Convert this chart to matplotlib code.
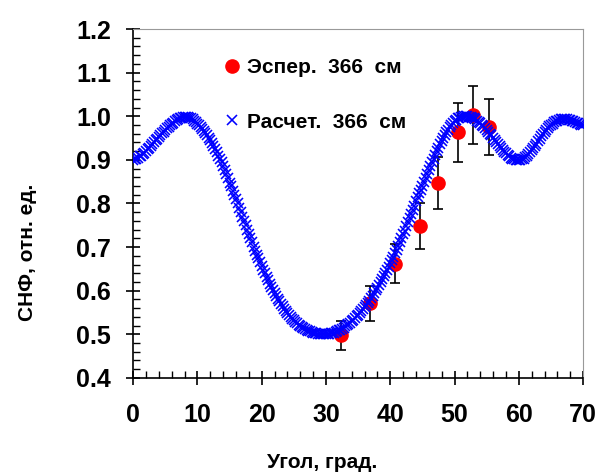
import numpy as np
import matplotlib
matplotlib.use('Agg')
import matplotlib.pyplot as plt
from matplotlib.ticker import MultipleLocator, FormatStrFormatter

plt.rcParams['font.family'] = ['Liberation Sans', 'DejaVu Sans']
plt.rcParams['font.weight'] = 'bold'

# calculated curve, step 0.25 deg
calc_angle = np.arange(0, 70.01, 0.25)
calc_value = [
    0.900, 0.901, 0.903, 0.905, 0.908, 0.910, 0.913, 0.916, 0.920, 0.924,
    0.928, 0.932, 0.937, 0.941, 0.945, 0.949, 0.953, 0.957, 0.961, 0.965,
    0.968, 0.972, 0.975, 0.979, 0.982, 0.985, 0.988, 0.991, 0.993, 0.995,
    0.997, 0.998, 0.999, 0.999, 0.998, 0.997, 0.995, 0.993, 0.990, 0.987,
    0.983, 0.979, 0.975, 0.971, 0.966, 0.961, 0.956, 0.951, 0.945, 0.939,
    0.932, 0.925, 0.918, 0.910, 0.902, 0.894, 0.885, 0.876, 0.867, 0.858,
    0.848, 0.839, 0.829, 0.820, 0.810, 0.800, 0.790, 0.780, 0.770, 0.760,
    0.750, 0.740, 0.730, 0.720, 0.711, 0.701, 0.692, 0.683, 0.674, 0.665,
    0.656, 0.648, 0.640, 0.632, 0.624, 0.616, 0.609, 0.602, 0.595, 0.588,
    0.582, 0.576, 0.570, 0.564, 0.559, 0.554, 0.549, 0.544, 0.540, 0.536,
    0.532, 0.528, 0.525, 0.522, 0.519, 0.516, 0.514, 0.512, 0.510, 0.508,
    0.507, 0.505, 0.504, 0.503, 0.502, 0.501, 0.501, 0.500, 0.500, 0.500,
    0.500, 0.500, 0.501, 0.502, 0.503, 0.504, 0.506, 0.507, 0.509, 0.511,
    0.513, 0.515, 0.518, 0.521, 0.524, 0.527, 0.530, 0.533, 0.537, 0.541,
    0.545, 0.549, 0.553, 0.557, 0.562, 0.567, 0.572, 0.577, 0.583, 0.589,
    0.595, 0.601, 0.607, 0.613, 0.620, 0.627, 0.634, 0.641, 0.648, 0.655,
    0.663, 0.670, 0.678, 0.686, 0.694, 0.702, 0.711, 0.720, 0.729, 0.738,
    0.748, 0.757, 0.767, 0.776, 0.786, 0.795, 0.805, 0.814, 0.823, 0.832,
    0.841, 0.850, 0.859, 0.868, 0.877, 0.886, 0.895, 0.903, 0.912, 0.920,
    0.928, 0.936, 0.943, 0.950, 0.957, 0.963, 0.969, 0.975, 0.980, 0.984,
    0.988, 0.992, 0.995, 0.997, 0.998, 0.999, 1.000, 1.000, 1.000, 0.999,
    0.998, 0.997, 0.995, 0.993, 0.990, 0.987, 0.984, 0.981, 0.977, 0.973,
    0.969, 0.965, 0.960, 0.956, 0.951, 0.946, 0.941, 0.937, 0.932, 0.927,
    0.923, 0.919, 0.915, 0.911, 0.908, 0.905, 0.903, 0.901, 0.900, 0.899,
    0.899, 0.900, 0.901, 0.903, 0.906, 0.909, 0.913, 0.917, 0.922, 0.927,
    0.932, 0.937, 0.943, 0.948, 0.954, 0.959, 0.964, 0.969, 0.973, 0.977,
    0.980, 0.983, 0.986, 0.988, 0.990, 0.992, 0.993, 0.994, 0.994, 0.994,
    0.993, 0.992, 0.991, 0.990, 0.988, 0.987, 0.985, 0.984, 0.982, 0.981,
    0.980,
]

# experiment
exp_angle = [32.4, 36.9, 40.8, 44.7, 47.5, 50.6, 52.9, 55.4]
exp_value = [0.498, 0.571, 0.662, 0.748, 0.847, 0.963, 1.003, 0.975]
exp_err = [0.033, 0.040, 0.045, 0.052, 0.060, 0.067, 0.067, 0.064]

fig = plt.figure(figsize=(6.08, 4.76), dpi=100)
ax = fig.add_axes([0.219, 0.206, 0.740, 0.733])

ax.errorbar(exp_angle, exp_value, yerr=exp_err, fmt='none', ecolor='black',
            elinewidth=1.2, capsize=3.5, capthick=1.2, zorder=2)
h_exp, = ax.plot(exp_angle, exp_value, 'o', color='#FF0000', markersize=9.5,
                 label='Эспер.  366  см', zorder=3)
h_calc, = ax.plot(calc_angle, calc_value, 'x', color='#0000FF', markersize=6.5,
                  markeredgewidth=1.15, label='Расчет.  366  см', zorder=4)

ax.set_xlim(0, 70)
ax.set_ylim(0.4, 1.2)
ax.xaxis.set_major_locator(MultipleLocator(10))
ax.xaxis.set_minor_locator(MultipleLocator(2))
ax.yaxis.set_major_locator(MultipleLocator(0.1))
ax.yaxis.set_minor_locator(MultipleLocator(0.02))
ax.yaxis.set_major_formatter(FormatStrFormatter('%.1f'))

ax.tick_params(which='major', direction='inout', length=10, width=1.2,
               labelsize=18)
ax.tick_params(axis='x', which='major', pad=13)
ax.tick_params(axis='y', which='major', pad=11)
ax.tick_params(which='minor', direction='in', length=5, width=1)
for lab in ax.get_xticklabels() + ax.get_yticklabels():
    lab.set_fontweight('bold')

ax.spines['left'].set_linewidth(1.2)
ax.spines['bottom'].set_linewidth(1.2)
ax.spines['top'].set_color('#999999')
ax.spines['right'].set_color('#999999')

ax.set_xlabel('Угол, град.', fontsize=15, fontweight='bold')
ax.set_ylabel('СНФ, отн. ед.', fontsize=15, fontweight='bold')
ax.xaxis.set_label_coords(0.42, -0.215)
ax.yaxis.set_label_coords(-0.213, 0.361)

leg = ax.legend(handles=[h_exp, h_calc], loc='upper left',
                bbox_to_anchor=(0.16, 0.97), frameon=False, fontsize=15,
                handlelength=0.8, handletextpad=0.3, labelspacing=1.7)
for t in leg.get_texts():
    t.set_fontweight('bold')

fig.savefig('out.png', dpi=100)
